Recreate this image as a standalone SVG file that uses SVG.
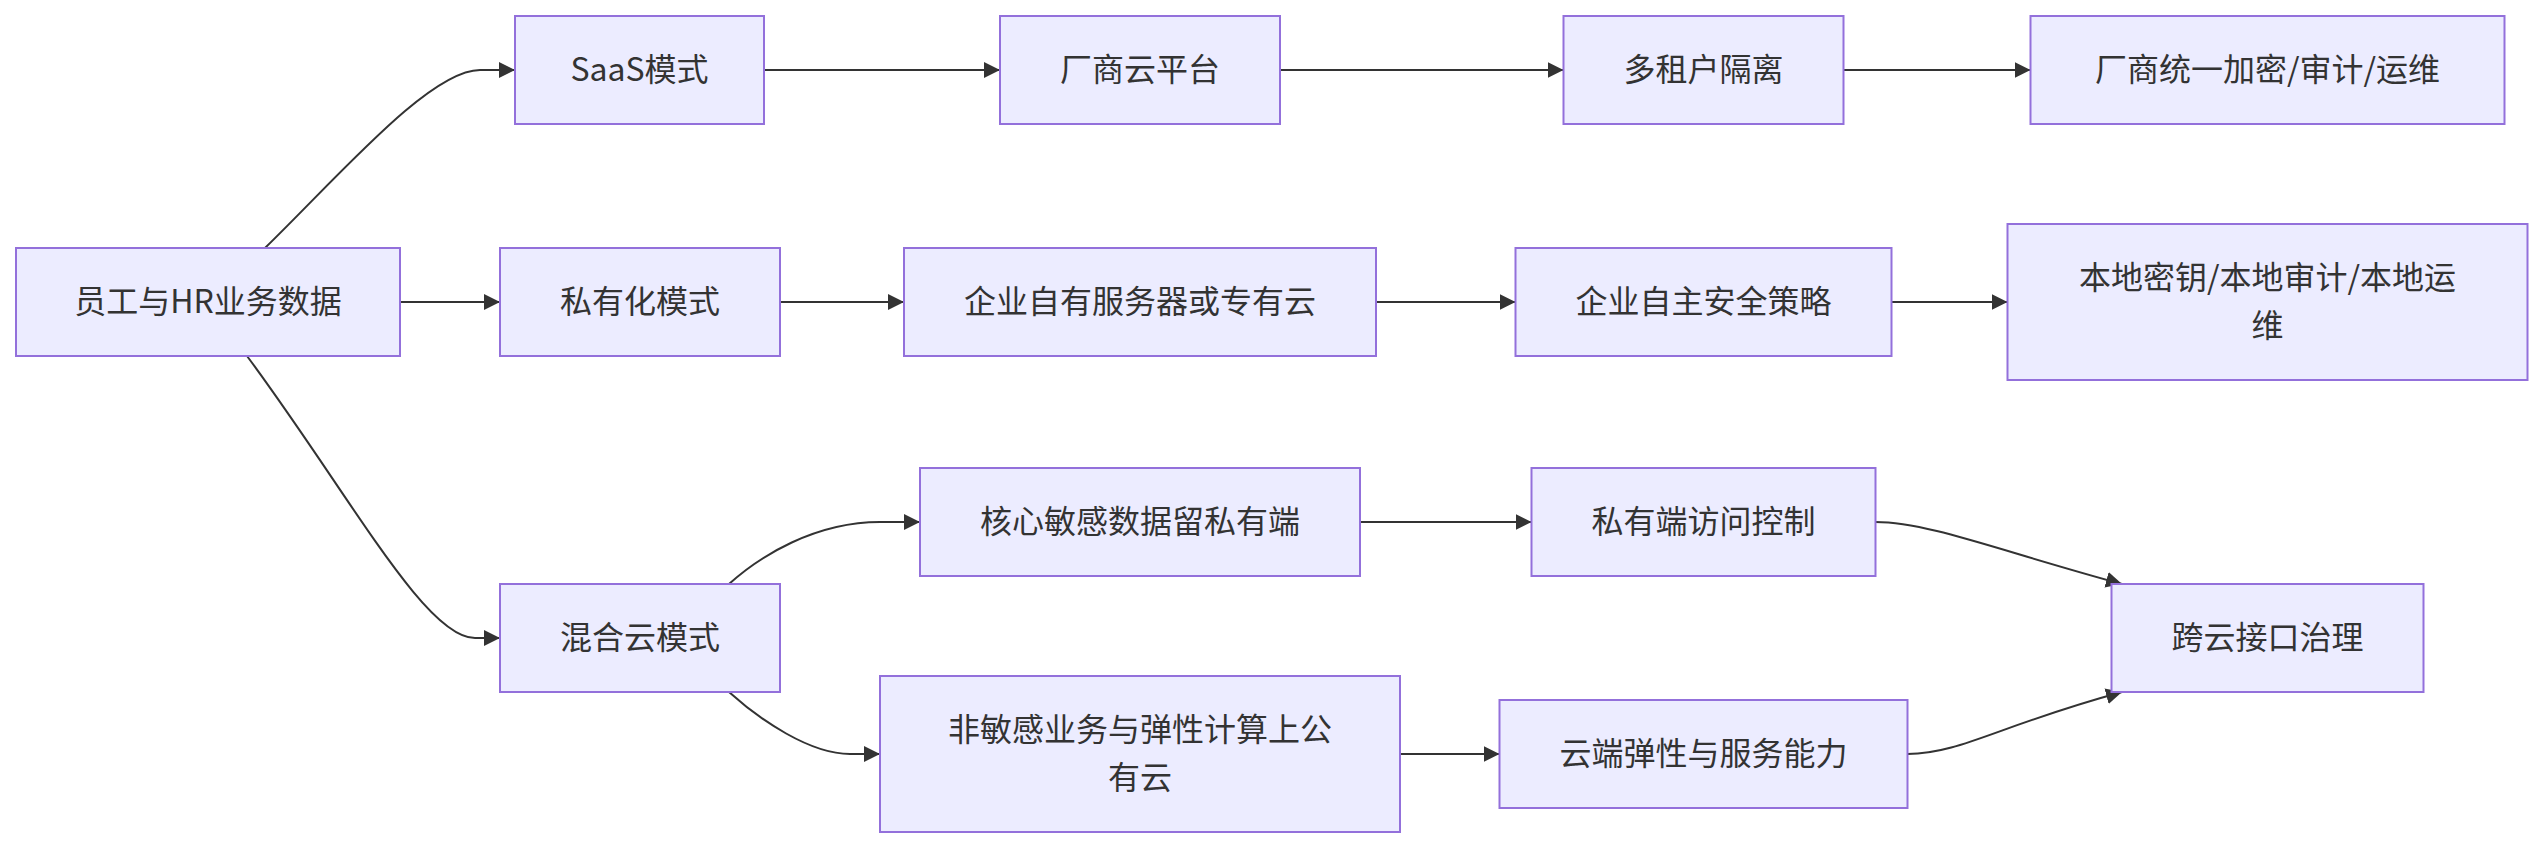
<svg xmlns="http://www.w3.org/2000/svg" width="2543" height="848" viewBox="0 0 2543 848">
<style>
.node rect{fill:#ECECFF;stroke:#9370DB;stroke-width:2;}
.node text{font-family:"Noto Sans CJK SC","Liberation Sans",sans-serif;font-size:32px;fill:#333333;text-anchor:middle;dominant-baseline:central;}
.edges path{fill:none;stroke:#333333;stroke-width:2;marker-end:url(#arrow);}
</style>
<defs>
<marker id="arrow" viewBox="0 0 10 10" refX="10" refY="5" markerUnits="userSpaceOnUse" markerWidth="16" markerHeight="16" orient="auto">
<path d="M0,0 L10,5 L0,10 z" fill="#333333"/>
</marker>
</defs>
<rect width="2543" height="848" fill="#ffffff"/>
<g id="edges" class="edges">
<path d="M265,248 C340,175 430,70 480,70 L515,70"/>
<path d="M400,302 L500,302"/>
<path d="M247,356 C350,495 425,638 475,638 L500,638"/>
<path d="M764,70 L1000,70"/>
<path d="M780,302 L904,302"/>
<path d="M729,584 C760,556 815,522 880,522 L920,522"/>
<path d="M729,692 C760,720 810,754 850,754 L880,754"/>
<path d="M1280,70 L1563.5,70"/>
<path d="M1376,302 L1515.5,302"/>
<path d="M1360,522 L1531.5,522"/>
<path d="M1400,754 L1499.5,754"/>
<path d="M1843.5,70 L2030.5,70"/>
<path d="M1891.5,302 L2007.5,302"/>
<path d="M1875.5,522 C1928,522 2000,551 2122,584"/>
<path d="M1907.5,754 C1960,754 2000,725 2122,692"/>
</g>
<g id="A" class="node"><rect x="16" y="248" width="384" height="108"/><text x="208" y="299">员工与HR业务数据</text></g>
<g id="B" class="node"><rect x="515" y="16" width="249" height="108"/><text x="639.5" y="67">SaaS模式</text></g>
<g id="C" class="node"><rect x="500" y="248" width="280" height="108"/><text x="640" y="299">私有化模式</text></g>
<g id="D" class="node"><rect x="500" y="584" width="280" height="108"/><text x="640" y="635">混合云模式</text></g>
<g id="E" class="node"><rect x="1000" y="16" width="280" height="108"/><text x="1140" y="67">厂商云平台</text></g>
<g id="F" class="node"><rect x="904" y="248" width="472" height="108"/><text x="1140" y="299">企业自有服务器或专有云</text></g>
<g id="G" class="node"><rect x="920" y="468" width="440" height="108"/><text x="1140" y="519">核心敏感数据留私有端</text></g>
<g id="H" class="node"><rect x="880" y="676" width="520" height="156"/><text x="1140" y="727">非敏感业务与弹性计算上公</text><text x="1140" y="775">有云</text></g>
<g id="I" class="node"><rect x="1563.5" y="16" width="280" height="108"/><text x="1703.5" y="67">多租户隔离</text></g>
<g id="J" class="node"><rect x="1515.5" y="248" width="376" height="108"/><text x="1703.5" y="299">企业自主安全策略</text></g>
<g id="K" class="node"><rect x="1531.5" y="468" width="344" height="108"/><text x="1703.5" y="519">私有端访问控制</text></g>
<g id="L" class="node"><rect x="1499.5" y="700" width="408" height="108"/><text x="1703.5" y="751">云端弹性与服务能力</text></g>
<g id="M" class="node"><rect x="2030.5" y="16" width="474" height="108"/><text x="2267.5" y="67">厂商统一加密/审计/运维</text></g>
<g id="N" class="node"><rect x="2007.5" y="224" width="520" height="156"/><text x="2267.5" y="275">本地密钥/本地审计/本地运</text><text x="2267.5" y="323">维</text></g>
<g id="O" class="node"><rect x="2111.5" y="584" width="312" height="108"/><text x="2267.5" y="635">跨云接口治理</text></g>
</svg>
